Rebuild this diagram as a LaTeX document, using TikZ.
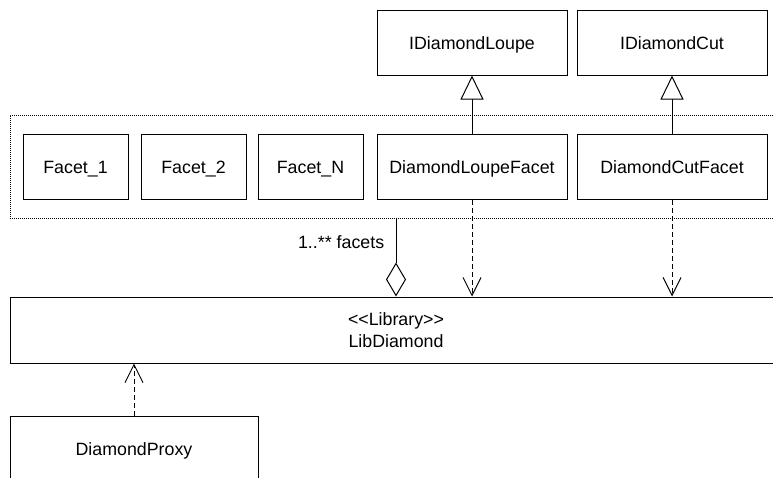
\documentclass[tikz,border=0pt]{standalone}
\usepackage{fontspec}
\setmainfont{Liberation Sans}
\usetikzlibrary{arrows.meta}

\begin{document}
\begin{tikzpicture}[x=1pt, y=-1pt, font=\fontsize{17.8}{22}\selectfont,
	frame/.style={draw, line width=1pt, minimum height=65pt, inner sep=0pt},
	box/.style={frame, text height=13pt, text depth=0pt},
	realize/.style={line width=1pt, dash pattern=on 5pt off 3pt, -{Straight Barb[length=18pt, width=18pt]}},
	inherit/.style={line width=1pt, -{Triangle[open, fill=white, length=24pt, width=23pt]}},
	aggr/.style={line width=1pt, {Diamond[open, fill=white, length=34pt, width=20pt]}-}]%像素坐标

	\useasboundingbox (0,0) rectangle (773,477);%边界

	\node [frame, line width=0.8pt, dash pattern=on 1pt off 1pt, minimum width=772pt, minimum height=103pt] (facets) at (396,166.5) {};%虚线框
	\node [box, minimum width=105pt] (facet1) at (75.5,167) {Facet\_1};
	\node [box, minimum width=105pt] (facet2) at (193.5,167) {Facet\_2};
	\node [box, minimum width=105pt] (facetN) at (310.5,167) {Facet\_N};
	\node [box, minimum width=190pt] (loupefacet) at (472,167) {DiamondLoupeFacet};
	\node [box, minimum width=190pt] (cutfacet) at (672,167) {DiamondCutFacet};

	\node [box, minimum width=190pt] (iloupe) at (472,42.5) {IDiamondLoupe};%接口
	\node [box, minimum width=190pt] (icut) at (672,42.5) {IDiamondCut};

	\node [frame, minimum width=772pt, minimum height=66pt, align=center] (lib) at (396,330) {<{}<Library>{}>\\LibDiamond};%库
	\node [box, minimum width=248pt, minimum height=66pt] (proxy) at (134,449) {DiamondProxy};

	\draw [inherit] (loupefacet) -- (iloupe);%继承
	\draw [inherit] (cutfacet) -- (icut);
	\draw [realize] (loupefacet) -- (loupefacet |- lib.north);%依赖
	\draw [realize] (cutfacet) -- (cutfacet |- lib.north);
	\draw [realize] (proxy.north) -- (proxy.north |- lib.south);
	\draw [aggr] (lib.north -| facets) -- node [left=8pt, pos=0.7] (mult) {1..** facets} (facets.south);%聚合
\end{tikzpicture}
\end{document}
